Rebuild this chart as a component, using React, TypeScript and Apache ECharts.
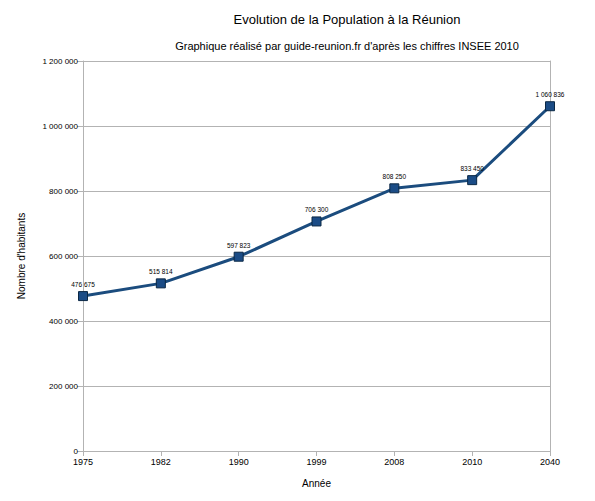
import React, { useEffect, useRef } from "react";
import * as echarts from "echarts";

const years = ["1975", "1982", "1990", "1999", "2008", "2010", "2040"];
const population = [476675, 515814, 597823, 706300, 808250, 833450, 1060836];
const valueLabels = ["476 675", "515 814", "597 823", "706 300", "808 250", "833 450", "1 060 836"];

const FONT = "'Liberation Sans', Arial, sans-serif";

function fmt(v: number): string {
  return String(v).replace(/\B(?=(\d{3})+(?!\d))/g, " ");
}

export default function App() {
  const ref = useRef<HTMLDivElement>(null);
  useEffect(() => {
    const chart = echarts.init(ref.current!, undefined, { renderer: "svg" });
    chart.setOption({
      animation: false,
      backgroundColor: "#ffffff",
      title: [
        {
          text: "Evolution de la Population à la Réunion",
          left: 334,
          top: 0,
          textAlign: "center",
          textStyle: { fontFamily: FONT, fontSize: 13, fontWeight: "normal", color: "#000" },
        },
        {
          text: "Graphique réalisé par guide-reunion.fr d'après les chiffres INSEE 2010",
          left: 334,
          top: 27,
          textAlign: "center",
          textStyle: { fontFamily: FONT, fontSize: 11, fontWeight: "normal", color: "#000" },
        },
      ],
      grid: { left: 72, right: 37, top: 53, bottom: 41, containLabel: false },
      xAxis: {
        type: "category",
        data: years,
        boundaryGap: false,
        name: "Année",
        nameLocation: "middle",
        nameGap: 27,
        nameTextStyle: { fontFamily: FONT, fontSize: 10, color: "#000" },
        axisLine: { lineStyle: { color: "#b3b3b3", width: 1 } },
        axisTick: { show: true, length: 5, lineStyle: { color: "#b3b3b3" } },
        axisLabel: { fontFamily: FONT, fontSize: 9, color: "#000", margin: 6 },
        splitLine: { show: false },
      },
      yAxis: [
        {
          type: "value",
          min: 0,
          max: 1200000,
          interval: 200000,
          name: "Nombre d'habitants",
          nameLocation: "middle",
          nameGap: 57,
          nameRotate: 90,
          nameTextStyle: { fontFamily: FONT, fontSize: 10, color: "#000" },
          axisLine: { show: true, lineStyle: { color: "#b3b3b3", width: 1 } },
          axisTick: { show: true, length: 6, lineStyle: { color: "#b3b3b3" } },
          axisLabel: { fontFamily: FONT, fontSize: 8, color: "#000", margin: 5, formatter: (v: number) => fmt(v) },
          splitLine: { show: true, lineStyle: { color: "#b3b3b3", width: 1 } },
        },
        {
          type: "value",
          position: "right",
          min: 0,
          max: 1200000,
          interval: 200000,
          axisLine: { show: true, lineStyle: { color: "#b3b3b3", width: 1 } },
          axisTick: { show: false },
          axisLabel: { show: false },
          splitLine: { show: false },
        },
      ],
      series: [
        {
          type: "line",
          data: population,
          yAxisIndex: 0,
          lineStyle: { color: "#1b4c7e", width: 3 },
          itemStyle: { color: "#1b4c86", borderColor: "#0b2845", borderWidth: 1 },
          symbol: "rect",
          symbolSize: 9,
          label: {
            show: true,
            position: "top",
            distance: 3,
            fontFamily: FONT,
            fontSize: 6.5,
            color: "#000",
            formatter: (p: any) => valueLabels[p.dataIndex],
          },
        },
      ],
    });
    return () => chart.dispose();
  }, []);
  return <div ref={ref} style={{ width: 579, height: 485 }} />;
}
